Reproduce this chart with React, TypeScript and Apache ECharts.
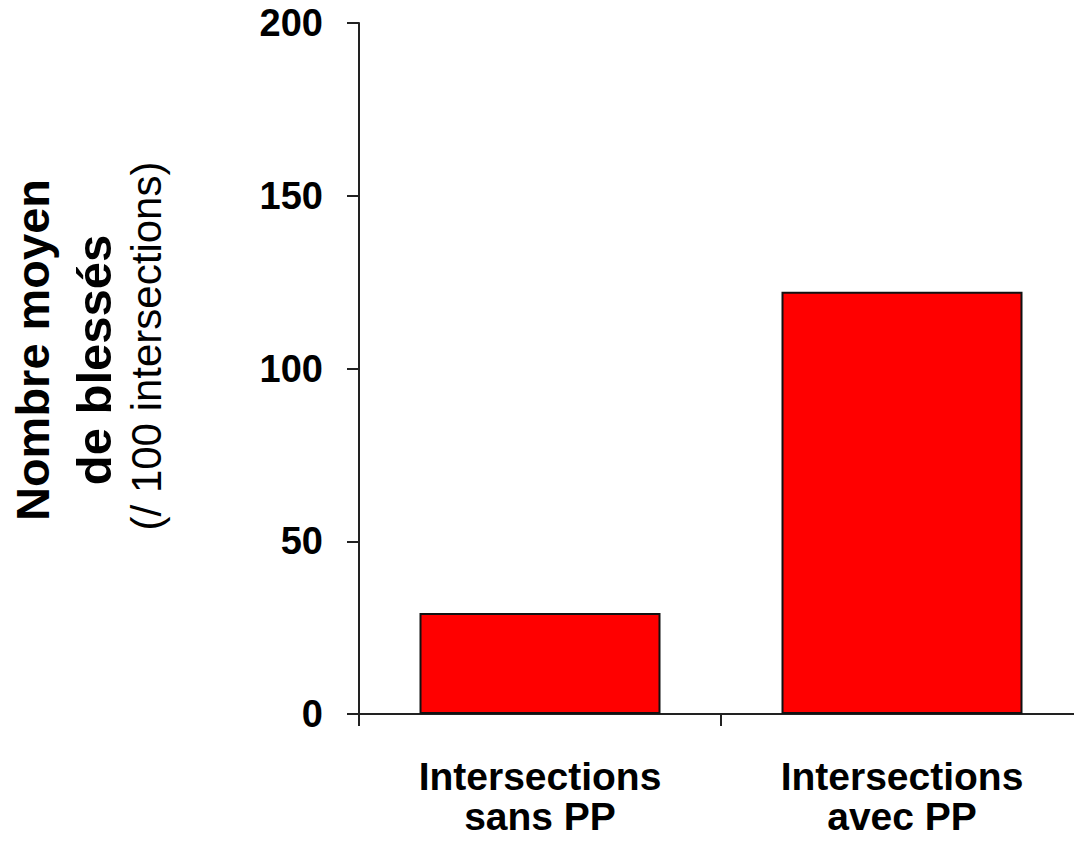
import React, { useEffect, useRef } from "react";
import * as echarts from "echarts";

const categories = ["Intersections\nsans PP", "Intersections\navec PP"];
const values = [29.2, 122.2];
const yTicks = [0, 50, 100, 150, 200];
const titleLines = ["Nombre moyen", "de blessés", "(/ 100 intersections)"];

const FONT = "'Liberation Sans', Arial, sans-serif";

export default function App() {
  const ref = useRef<HTMLDivElement>(null);
  useEffect(() => {
    if (!ref.current) return;
    const chart = echarts.init(ref.current, null, { renderer: "svg" });
    chart.setOption({
      animation: false,
      backgroundColor: "#ffffff",
      grid: {
        left: 359,
        top: 23,
        width: 724,
        bottom: 130,
        containLabel: false,
        outerBoundsMode: "none",
      },
      xAxis: {
        type: "category",
        data: categories,
        axisLine: { show: true, lineStyle: { color: "#222", width: 2 } },
        axisTick: { show: true, alignWithLabel: false, length: 12, lineStyle: { color: "#222", width: 2 } },
        axisLabel: {
          color: "#000",
          fontFamily: FONT,
          fontWeight: "bold",
          fontSize: 39,
          lineHeight: 40,
          margin: 42,
        },
      },
      yAxis: {
        type: "value",
        min: yTicks[0],
        max: yTicks[yTicks.length - 1],
        interval: 50,
        splitLine: { show: false },
        axisLine: { show: true, lineStyle: { color: "#222", width: 2 } },
        axisTick: { show: true, inside: false, length: 12, lineStyle: { color: "#222", width: 2 } },
        axisLabel: {
          color: "#000",
          fontFamily: FONT,
          fontWeight: "bold",
          fontSize: 38,
          margin: 36,
        },
      },
      graphic: [
        {
          type: "text",
          x: 32,
          y: 350,
          rotation: Math.PI / 2,
          style: {
            text: titleLines[0],
            fill: "#000",
            font: `bold 47px ${FONT}`,
            textAlign: "center",
            textVerticalAlign: "middle",
          },
        },
        {
          type: "text",
          x: 94,
          y: 360,
          rotation: Math.PI / 2,
          style: {
            text: titleLines[1],
            fill: "#000",
            font: `bold 49px ${FONT}`,
            textAlign: "center",
            textVerticalAlign: "middle",
          },
        },
        {
          type: "text",
          x: 146,
          y: 346,
          rotation: Math.PI / 2,
          style: {
            text: titleLines[2],
            fill: "#000",
            font: `normal 42px ${FONT}`,
            textAlign: "center",
            textVerticalAlign: "middle",
          },
        },
      ],
      series: [
        {
          type: "bar",
          data: values,
          barWidth: 241,
          itemStyle: { color: "#ff0000", borderColor: "#111", borderWidth: 2 },
        },
      ],
    });
    return () => chart.dispose();
  }, []);
  return (
    <div
      ref={ref}
      style={{ position: "absolute", left: 0, top: 0, width: 1074, height: 844 }}
    />
  );
}
